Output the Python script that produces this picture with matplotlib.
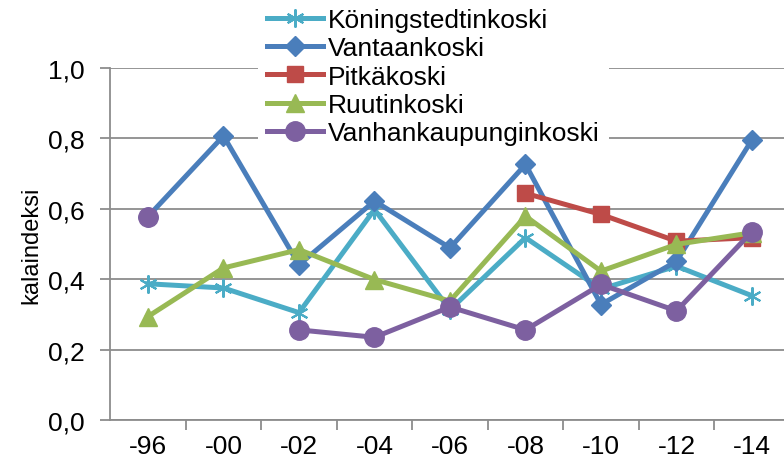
import numpy as np
import matplotlib.pyplot as plt

plt.rcParams["font.family"] = ["Liberation Sans", "DejaVu Sans"]

# Data
years = ["-96", "-00", "-02", "-04", "-06", "-08", "-10", "-12", "-14"]
nan = np.nan
koningstedt = [0.387, 0.375, 0.305, 0.598, 0.313, 0.518, 0.372, 0.437, 0.353]
vantaa = [0.578, 0.807, 0.441, 0.622, 0.489, 0.726, 0.328, 0.451, 0.796]
pitka = [nan, nan, nan, nan, nan, 0.644, 0.584, 0.508, 0.518]
ruuti = [0.294, 0.432, 0.484, 0.399, 0.338, 0.579, 0.423, 0.499, 0.532]
vanhankaupunki = [0.577, nan, 0.256, 0.235, 0.321, 0.256, 0.385, 0.310, 0.535]

fig = plt.figure(figsize=(7.84, 4.64), dpi=100)
ax = fig.add_axes([110 / 784, 1 - 421 / 464, 1 - 110 / 784, (421 - 69) / 464])

x = np.arange(len(years))
lw = 3.6

ax.plot(x, koningstedt, color="#4BACC6", lw=lw, marker=(6, 2, 0), ms=13, mew=1.5,
        label="Köningstedtinkoski", zorder=3)
ax.plot(x, vantaa, color="#4A7EBB", lw=lw, marker="D", ms=10, label="Vantaankoski", zorder=4)
ax.plot(x, pitka, color="#BE4B48", lw=lw, marker="s", ms=12, label="Pitkäkoski", zorder=5)
ax.plot(x, ruuti, color="#98B954", lw=lw, marker="^", ms=13, label="Ruutinkoski", zorder=6)
ax.plot(x, vanhankaupunki, color="#7D60A0", lw=lw, marker="o", ms=14,
        label="Vanhankaupunginkoski", zorder=7)

ax.set_xlim(-0.503, (784 - 148) / 75.5)
ax.set_ylim(0, 1.0)
ax.set_yticks([0, 0.2, 0.4, 0.6, 0.8, 1.0])
ax.set_yticklabels(["0,0", "0,2", "0,4", "0,6", "0,8", "1,0"])
ax.set_xticks(x)
ax.set_xticklabels(years)
ax.set_xticks(x[:-1] + 0.5, minor=True)

ax.grid(axis="y", color="#8C8C8C", lw=1.3)
ax.set_axisbelow(True)
for s in ["top", "right"]:
    ax.spines[s].set_visible(False)
for s in ["left", "bottom"]:
    ax.spines[s].set_color("#8C8C8C")
    ax.spines[s].set_linewidth(1.3)

ax.tick_params(axis="y", labelsize=19, length=7, width=1.3, color="#8C8C8C", pad=11)
ax.tick_params(axis="x", which="major", labelsize=19, length=0, pad=10)
ax.tick_params(axis="x", which="minor", length=7, width=1.3, color="#8C8C8C")

ax.set_ylabel("kalaindeksi", fontsize=17, labelpad=4)

leg = fig.legend(loc="upper left", bbox_to_anchor=(258 / 784, 1.0), fontsize=19,
                 frameon=True, fancybox=False, edgecolor="none", facecolor="white",
                 framealpha=1, handlelength=2.1, handletextpad=0.2, labelspacing=0.16,
                 borderpad=0.35, borderaxespad=0, numpoints=1)
leg.set_zorder(10)

fig.savefig("out.png", dpi=100)
